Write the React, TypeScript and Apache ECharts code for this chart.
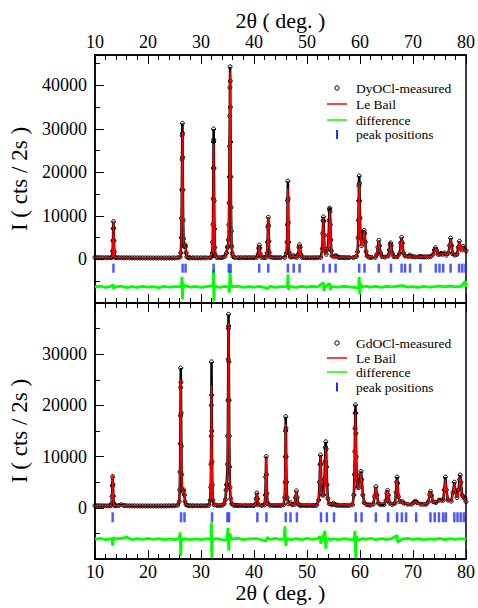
import React, { useEffect, useRef } from "react";
import * as echarts from "echarts";

const FONT = '"Liberation Serif", "Times New Roman", serif';

// ---------- X axis ----------
const X_MIN = 10;
const X_MAX = 80;
const X_TITLE = "2θ ( deg. )";
const Y_TITLE = "I ( cts / 2s )";

// ---------- DyOCl (top panel) ----------
const dyMeasured: [number, number][] = [
  [10.0,500],[10.5,450],[11.0,420],[11.5,400],[12.0,400],[12.5,390],[13.0,420],[13.25,550],[13.35,1900],[13.41,4300],[13.46,7100],[13.5,8700],[13.54,7200],[13.59,4300],[13.65,1800],[13.75,550],
  [14.0,420],[14.5,410],[15,400],[15.5,390],[16,380],[16.5,375],[17,370],[17.5,365],[18,360],[18.5,360],[19,360],[19.5,355],[20,350],[20.5,350],[21,350],[21.5,345],[22,340],[22.5,340],[23,340],[23.5,345],[24,350],[24.5,355],[25,360],[25.6,400],[26.05,550],
  [26.2,1500],[26.3,5000],[26.35,9500],[26.4,16000],[26.44,23000],[26.47,28500],[26.5,31300],[26.53,29000],[26.56,23500],[26.6,16000],[26.65,9000],[26.71,4800],
  [26.8,3100],[26.9,3000],[27.0,3400],[27.1,3000],[27.2,1500],[27.35,600],[27.7,400],[28,380],[28.5,375],[29,370],[29.5,370],[30,370],[30.5,375],[31,380],[31.7,420],[32.05,600],
  [32.15,1500],[32.22,4000],[32.27,8000],[32.31,14000],[32.35,21000],[32.38,27000],[32.4,30000],[32.43,27500],[32.46,21000],[32.5,13500],[32.55,7000],[32.62,2800],[32.75,900],[33.0,450],
  [33.5,420],[34.0,450],[34.5,700],[34.85,1500],[35.0,2800],[35.1,3000],[35.2,4500],
  [35.27,8000],[35.32,13000],[35.36,19000],[35.4,26000],[35.44,33000],[35.47,39500],[35.5,44300],[35.53,41000],[35.56,35000],[35.6,27000],[35.64,19000],[35.68,12000],[35.73,6500],[35.8,3000],[35.9,1400],[36.05,700],[36.4,450],
  [37,420],[37.5,415],[38,410],[38.5,410],[39,410],[39.5,415],[40,420],[40.55,500],[40.8,1300],[40.9,2600],[41.0,3300],[41.1,2600],[41.2,1200],[41.4,500],
  [41.9,450],[42.3,500],[42.5,1500],[42.57,4000],[42.63,7500],[42.7,9700],[42.77,7800],[42.83,4200],[42.9,1600],[43.05,600],
  [43.5,450],[44,430],[44.5,430],[45,430],[45.8,500],[46.15,1500],[46.25,4000],[46.3,8000],[46.35,13500],[46.4,18000],[46.45,14000],[46.5,8500],[46.55,4000],[46.65,1500],[46.85,600],
  [47.2,600],[47.45,900],[47.7,600],[48.1,500],[48.35,1200],[48.5,2800],[48.6,3400],[48.7,2800],[48.85,1200],[49.05,500],
  [49.5,420],[50,400],[50.5,400],[51,400],[51.5,410],[52,420],[52.6,500],[52.9,2500],[52.98,6000],[53.05,9000],[53.1,9800],[53.15,8800],[53.22,5500],[53.35,2000],
  [53.65,1200],[53.95,2500],[54.1,5500],[54.17,9000],[54.25,11500],[54.3,11800],[54.35,11000],[54.42,8000],[54.5,4500],[54.6,2000],[54.75,800],
  [55.2,600],[55.45,900],[55.75,600],[56.1,480],[56.5,450],[57,430],[57.5,430],[58,430],[58.8,450],[59.35,700],[59.55,1800],
  [59.65,5000],[59.71,9000],[59.76,13500],[59.8,17000],[59.85,19200],[59.9,17500],[59.95,13500],[60.01,9500],[60.1,6000],
  [60.3,3200],[60.55,4500],[60.67,6200],[60.8,6700],[60.9,6000],[61.0,4000],[61.15,1800],[61.35,800],[61.75,500],
  [62.2,450],[62.9,500],[63.2,1200],[63.38,2800],[63.55,4400],[63.7,3200],[63.85,1500],[64.15,700],
  [64.7,550],[65.3,800],[65.55,2200],[65.7,3400],[65.8,3800],[65.9,3200],[66.1,1400],[66.4,650],
  [67.0,600],[67.5,1400],[67.7,3800],[67.85,5100],[68.0,3800],[68.2,1500],[68.5,800],
  [69.1,700],[69.4,1000],[69.7,700],[70.1,620],[70.5,600],[71.1,600],[71.4,700],[71.7,600],
  [72.1,600],[72.5,600],[72.9,620],[73.3,650],[73.8,1200],[74.05,2200],[74.25,2700],[74.45,2100],[74.75,1200],[75.0,1200],[75.3,1400],[75.6,1200],[75.9,1500],[76.3,1000],
  [76.7,1500],[76.9,3200],[77.1,4900],[77.3,3200],[77.5,1300],[77.9,1000],[78.3,1200],[78.55,2800],[78.75,4200],[78.95,2800],[79.2,2200],[79.45,3000],[79.7,2400],[80,2000],
];

const dyLeBail: [number, number][] = [
  [10,450],[13.05,400],[13.3,800],[13.4,4000],[13.5,8900],[13.6,4000],[13.7,800],[13.95,400],
  [25.9,400],[26.25,2000],[26.37,12000],[26.5,29300],[26.61,12000],[26.73,4000],[26.85,3000],[27.0,3300],[27.15,2200],[27.35,600],[27.8,380],
  [31.8,400],[32.2,2000],[32.3,11000],[32.4,26500],[32.5,11000],[32.62,2500],[32.9,500],
  [34.5,600],[34.9,1800],[35.05,3000],[35.2,4000],[35.35,18000],[35.5,43200],[35.63,20000],[35.77,4000],[35.95,1000],[36.45,450],
  [40.6,450],[40.85,1500],[41.0,3200],[41.15,1500],[41.4,450],
  [42.35,450],[42.57,3500],[42.7,9600],[42.83,3500],[43.05,500],
  [45.95,450],[46.25,4000],[46.4,16300],[46.55,4000],[46.85,600],[47.45,850],[47.75,500],[48.35,1000],[48.6,3300],[48.85,1000],[49.25,450],
  [52.65,450],[52.93,2500],[53.1,9600],[53.25,4000],[53.45,1500],[53.75,1300],[54.05,3000],[54.3,11300],[54.5,3500],[54.75,700],
  [55.2,500],[55.45,800],[55.75,500],
  [59.25,500],[59.6,2500],[59.85,17800],[60.05,6000],[60.3,3000],[60.6,4500],[60.8,6600],[61.0,3500],[61.35,700],
  [62.9,500],[63.3,2000],[63.55,4300],[63.8,1500],[64.25,600],
  [65.3,600],[65.6,2000],[65.8,3700],[66.0,1500],[66.4,600],
  [67.45,800],[67.7,3000],[67.85,4900],[68.0,3000],[68.35,900],
  [69.1,650],[69.4,950],[69.7,650],[71.1,550],[71.4,650],[71.7,550],
  [73.6,700],[74.05,1800],[74.25,2600],[74.45,1800],[74.85,1000],[75.3,1300],[75.9,1400],[76.4,1000],
  [76.8,2000],[77.1,4700],[77.35,2000],[77.9,900],[78.4,1200],[78.75,4000],[79.1,2000],[79.45,2800],[79.75,2000],[80,1800],
];

const dyDifference: [number, number][] = [
  [10,-6300],[11,-6150],[12,-6400],[13,-6200],[13.45,-5800],[13.55,-6800],[13.7,-6300],[15,-6150],[16,-6450],[17,-6250],[18,-6400],[19,-6200],[20,-6350],[21,-6250],[22,-6450],[23,-6200],[24,-6350],[25,-6250],
  [26.3,-6200],[26.42,-4000],[26.52,-9200],[26.6,-5300],[26.75,-6500],[27.0,-6000],[28,-6350],[29,-6200],[30,-6400],[31,-6250],[32.3,-6000],[32.38,-2200],[32.43,-9600],[32.52,-6800],[32.7,-6200],
  [33.5,-6400],[34.5,-6200],[35.2,-6300],[35.35,-7600],[35.5,-2600],[35.62,-5400],[35.9,-6300],[37,-6150],[38,-6400],[39,-6250],[40,-6350],[41,-6200],[42.7,-6650],[43,-6100],[44,-6400],[45,-6250],
  [46.3,-6200],[46.42,-3400],[46.52,-7000],[46.7,-6200],[48,-6400],[49,-6200],[50,-6350],[51,-6150],[52,-6350],[53.1,-5300],[53.2,-7200],[53.4,-6300],[54.3,-5500],[54.4,-7000],[54.6,-6250],
  [56,-6350],[57,-6150],[58,-6300],[59.75,-6500],[59.85,-4000],[59.95,-8000],[60.1,-5500],[60.4,-6300],[61,-6150],[62,-6350],[63,-6200],[64,-6400],[65,-6200],[66,-6300],[67,-6150],
  [68,-6000],[69,-6350],[70,-6250],[71,-6400],[72,-6200],[73,-6350],[74,-6250],[75,-6100],[76,-6300],[77,-6100],[78,-6300],[79,-6200],[79.9,-5000],[80,-6300],
];

const dyPeakPositions: number[] = [
  13.5, 26.55, 27.1, 32.4, 35.25, 35.6, 41.0, 42.7, 46.4, 47.5, 48.6, 53.1, 54.3, 55.4,
  59.85, 60.85, 63.55, 65.85, 67.85, 68.5, 69.45, 71.4, 74.3, 75.0, 75.7, 77.1, 78.7, 79.3, 79.9,
];

// ---------- GdOCl (bottom panel) ----------
const gdMeasured: [number, number][] = [
  [10,450],[10.5,420],[11,400],[11.5,390],[12,380],[12.5,380],[13.0,400],
  [13.15,800],[13.22,2200],[13.28,4300],[13.35,6100],[13.42,4500],[13.48,2300],[13.55,900],[13.7,450],
  [14,400],[14.5,450],[15,600],[15.5,450],[16,400],[16.5,390],[17,380],[17.5,375],[18,370],[18.5,365],[19,360],[19.5,360],[20,360],[20.5,360],[21,360],[21.5,360],[22,360],[22.5,365],[23,370],[23.5,375],[24,380],[24.5,390],[25,400],[25.6,500],[25.9,1200],
  [26.0,3500],[26.05,7000],[26.1,12500],[26.14,18000],[26.17,23500],[26.2,27300],[26.23,24500],[26.27,18500],[26.31,12000],[26.36,6500],[26.45,3500],
  [26.6,3200],[26.75,3500],[26.88,2500],[27.0,1200],[27.2,600],[27.6,420],
  [28,400],[28.5,395],[29,390],[29.5,390],[30,390],[30.5,395],[31,400],[31.5,500],[31.75,1500],
  [31.85,4000],[31.9,8500],[31.94,14000],[31.97,20000],[32.0,28500],[32.03,22000],[32.06,15000],[32.1,9000],[32.15,4500],[32.25,1500],[32.5,600],
  [33,450],[33.5,450],[34,500],[34.4,800],[34.6,1600],[34.75,3500],[34.85,4500],[34.95,4500],
  [35.02,8500],[35.07,14000],[35.11,21000],[35.15,29000],[35.18,35000],[35.2,37800],[35.23,35500],[35.27,28500],[35.31,21000],[35.35,14000],[35.4,8000],[35.47,4000],[35.6,1800],[35.8,800],[36.2,500],
  [36.6,470],[37,450],[37.5,440],[38,430],[38.5,430],[39,430],[39.5,440],[40,450],[40.3,700],[40.42,1800],[40.55,2900],[40.68,1800],[40.85,600],
  [41.5,450],[42.0,600],[42.15,2500],[42.22,6000],[42.3,10000],[42.38,6500],[42.45,2800],[42.6,900],[43.0,500],
  [43.5,460],[44,450],[44.5,450],[45,450],[45.6,600],[45.8,2000],
  [45.88,5000],[45.93,10000],[45.97,15000],[46.0,17800],[46.04,15500],[46.09,10000],[46.15,5000],[46.25,2000],[46.5,800],
  [46.9,1000],[47.2,600],[47.7,700],[47.85,2000],[48.0,3300],[48.15,2000],[48.35,700],
  [48.7,500],[49,450],[49.5,450],[50,450],[50.5,450],[51,450],[51.4,470],[51.8,500],[52.2,1500],[52.38,5000],[52.48,8500],[52.55,10300],[52.62,8500],[52.72,4500],[52.85,2500],
  [53.15,2500],[53.3,5500],[53.4,9000],[53.48,11800],[53.55,12900],[53.62,11500],[53.7,8000],[53.8,4500],[53.95,1800],[54.2,800],
  [54.7,600],[55.0,900],[55.3,600],[55.6,520],[56,480],[56.5,470],[57,460],[57.5,465],[58,470],[58.6,600],[58.85,2500],
  [58.95,6500],[59.02,11000],[59.07,15500],[59.11,18500],[59.15,20100],[59.19,18500],[59.24,14500],[59.3,10000],[59.38,6500],
  [59.5,4000],[59.8,4000],[60.0,5800],[60.2,7100],[60.35,5500],[60.55,2500],[60.8,1000],[61.3,600],
  [61.7,560],[62,550],[62.5,700],[62.75,2200],[63.0,4100],[63.2,2500],[63.45,900],[63.9,600],
  [64.5,600],[64.9,1400],[65.05,2800],[65.2,3400],[65.35,2500],[65.6,900],[66.1,650],
  [66.6,900],[66.8,3000],[66.92,5000],[67.0,6000],[67.1,4800],[67.25,2200],[67.5,1200],[68.0,1200],[68.3,900],
  [69,700],[69.7,700],[70.2,1100],[70.5,1300],[70.8,1000],[71.5,700],
  [72,690],[72.5,700],[72.9,1200],[73.15,2600],[73.3,3200],[73.5,2400],[73.8,1200],[74.3,1000],[74.9,1500],[75.4,1500],[75.7,1500],
  [75.9,3500],[76.1,6000],[76.3,3500],[76.6,1500],[77.2,1300],[77.55,3000],[77.8,5000],[78.0,3300],[78.3,2000],[78.6,3500],[78.8,5500],[78.9,6400],[79.05,5000],[79.25,2500],[79.6,2000],[79.8,1800],[80,1200],
];

const gdLeBail: [number, number][] = [
  [10,420],[13.0,400],[13.15,700],[13.25,3000],[13.35,6600],[13.45,3000],[13.55,700],[13.8,400],
  [25.6,450],[25.95,2000],[26.07,10000],[26.2,25000],[26.32,10000],[26.45,3500],[26.6,3200],[26.75,3400],[26.9,2300],[27.1,800],[27.6,400],
  [31.5,450],[31.8,2000],[31.9,9000],[32.0,23800],[32.1,9000],[32.22,2000],[32.6,500],
  [34.3,700],[34.6,1800],[34.85,4400],[35.0,6500],[35.1,18000],[35.2,36100],[35.3,18000],[35.42,6000],[35.6,1800],[36.0,600],
  [40.2,500],[40.42,1700],[40.55,2800],[40.68,1700],[40.9,500],
  [42.0,550],[42.18,3000],[42.3,9700],[42.42,3000],[42.6,600],
  [45.6,550],[45.85,3500],[46.0,16400],[46.15,3500],[46.4,800],[46.9,950],[47.3,550],[47.7,650],[48.0,3200],[48.3,700],
  [52.0,500],[52.35,3500],[52.55,10000],[52.75,3000],[53.0,2200],[53.3,4000],[53.55,11900],[53.75,4000],[54.0,1500],[54.4,700],[55.0,850],[55.4,550],
  [58.6,550],[58.9,3000],[59.15,18700],[59.35,6500],[59.6,3800],[59.9,4200],[60.2,6800],[60.45,3500],[60.8,900],[61.4,550],
  [62.5,650],[62.8,2200],[63.0,4000],[63.2,2200],[63.5,800],
  [64.8,1000],[65.05,2600],[65.2,3300],[65.4,2000],[65.7,800],
  [66.6,900],[66.85,3500],[67.0,5500],[67.15,3500],[67.5,1100],[68.0,1150],[68.4,850],
  [69.8,700],[70.2,1050],[70.5,1250],[70.8,950],[71.5,650],
  [72.8,900],[73.1,2300],[73.3,3100],[73.5,2200],[73.9,1100],[74.9,1450],[75.4,1450],[75.75,1500],[75.95,3500],[76.1,5500],[76.3,3200],[76.7,1300],
  [77.3,1300],[77.6,3000],[77.8,4800],[78.0,3000],[78.4,2000],[78.7,4000],[78.9,5900],[79.1,4000],[79.35,2200],[79.6,1900],[80,1200],
];

const gdDifference: [number, number][] = [
  [10,-6100],[11,-5950],[12,-6200],[13.2,-6000],[13.35,-7400],[13.5,-5800],[13.8,-6100],[15,-5950],[16,-5750],[17,-6200],[18,-6000],[19,-6150],[20,-5950],[21,-6150],[22,-6000],[23,-6200],[24,-6050],[25,-6200],
  [25.9,-6000],[26.1,-4800],[26.2,-9400],[26.3,-5800],[26.6,-6300],[27,-6000],[28,-6200],[29,-6050],[30,-6200],[31,-6000],[31.9,-6100],[31.98,-2900],[32.03,-9800],[32.1,-6500],[32.3,-6100],
  [33,-6000],[34,-6200],[34.9,-6300],[35.1,-3900],[35.25,-8400],[35.4,-5000],[35.7,-6100],[37,-5950],[38,-6200],[39,-6050],[40.5,-6000],[42.3,-6500],[42.5,-5800],[43,-6150],[44,-5950],[45,-6150],
  [45.7,-6000],[45.85,-3600],[46.0,-7400],[46.2,-6000],[47,-6200],[48,-6000],[49,-6200],[50,-5950],[51,-6150],[52,-6000],[52.5,-5600],[52.6,-7000],[53.4,-4500],[53.55,-8000],[53.7,-6000],
  [54.5,-6200],[55,-6050],[56,-6200],[57,-6000],[58,-6150],[58.9,-6200],[59.05,-4500],[59.2,-9800],[59.35,-5600],[59.6,-6300],[60.5,-6000],[61,-6150],[62,-5950],[63,-6200],[64,-6000],[65,-6150],
  [66,-6000],[67,-5400],[67.1,-6700],[68,-6100],[69,-5950],[70,-6150],[71,-6000],[72,-6200],[73,-6050],[74,-6150],[75,-5950],[76,-6200],[77,-6000],[78,-6150],[79,-6000],[80,-6100],
];

const gdPeakPositions: number[] = [
  13.35, 26.25, 26.9, 32.1, 35.0, 35.3, 40.65, 42.35, 46.0, 46.9, 48.1, 52.65, 53.75, 55.1,
  59.2, 60.3, 63.0, 65.3, 67.0, 67.9, 68.7, 70.6, 73.3, 74.1, 74.9, 75.7, 76.2, 77.8, 78.4, 79.0, 79.6,
];

// ---------- Y ranges ----------
const DY_Y_MIN = -10000;
const DY_Y_MAX = 47000;
const GD_Y_MIN = -10000;
const GD_Y_MAX = 40000;
const DY_MARK_Y = -2000;
const GD_MARK_Y = -1850;

const DY_LEGEND = ["DyOCl-measured", "Le Bail", "difference", "peak positions"];
const GD_LEGEND = ["GdOCl-measured", "Le Bail", "difference", "peak positions"];

const RED = "#ff0000";
const GREEN = "#00ff00";
const BLUE = "#1f2fff";

function xAxisDef(gridIndex: number, position: string, labeled: boolean, nameGap: number) {
  return {
    type: "value",
    gridIndex,
    position,
    min: X_MIN,
    max: X_MAX,
    interval: 10,
    name: labeled ? X_TITLE : "",
    nameLocation: "middle",
    nameGap,
    nameTextStyle: { fontFamily: FONT, fontSize: 22, color: "#000" },
    axisLine: { show: true, onZero: false, lineStyle: { color: "#000", width: 1.5 } },
    axisTick: { show: true, inside: true, length: 9, lineStyle: { color: "#000", width: 1 } },
    minorTick: { show: true, splitNumber: 5, length: 5, lineStyle: { color: "#000", width: 1 } },
    axisLabel: { show: labeled, fontFamily: FONT, fontSize: 18, color: "#000", margin: 4 },
    splitLine: { show: false },
    minorSplitLine: { show: false },
  };
}

function legendGraphics(names: string[], rows: number[]) {
  const xs = 337;
  const tx = 356;
  const items: any[] = [
    { type: "circle", shape: { cx: xs, cy: rows[0], r: 2.2 }, style: { fill: "none", stroke: "#000", lineWidth: 1 } },
    { type: "line", shape: { x1: xs - 10, y1: rows[1], x2: xs + 10, y2: rows[1] }, style: { stroke: RED, lineWidth: 1.5 } },
    { type: "line", shape: { x1: xs - 10, y1: rows[2], x2: xs + 10, y2: rows[2] }, style: { stroke: GREEN, lineWidth: 1.5 } },
    { type: "rect", shape: { x: xs - 1, y: rows[3] - 4.5, width: 2, height: 9 }, style: { fill: BLUE } },
  ];
  names.forEach((n, i) => {
    items.push({
      type: "text",
      x: tx,
      y: rows[i],
      style: { text: n, fontFamily: FONT, fontSize: 13.5, fill: "#000", verticalAlign: "middle", align: "left" },
    });
  });
  return items;
}

function panelSeries(
  xi: number,
  yi: number,
  measured: [number, number][],
  leBail: [number, number][],
  diff: [number, number][],
  peaks: number[],
  markY: number,
  markH: number
) {
  return [
    {
      type: "line",
      xAxisIndex: xi,
      yAxisIndex: yi,
      data: measured,
      symbol: "circle",
      symbolSize: 4,
      showAllSymbol: true,
      itemStyle: { color: "rgba(0,0,0,0)", borderColor: "#000", borderWidth: 1 },
      lineStyle: { color: "#000", width: 2.5 },
      z: 2,
    },
    {
      type: "line",
      xAxisIndex: xi,
      yAxisIndex: yi,
      data: leBail,
      symbol: "none",
      lineStyle: { color: RED, width: 1.5 },
      z: 3,
    },
    {
      type: "line",
      xAxisIndex: xi,
      yAxisIndex: yi,
      data: diff,
      symbol: "none",
      lineStyle: { color: GREEN, width: 2.8 },
      z: 2,
    },
    {
      type: "scatter",
      xAxisIndex: xi,
      yAxisIndex: yi,
      data: peaks.map((p) => [p, markY]),
      symbol: "rect",
      symbolSize: [2.5, markH],
      itemStyle: { color: BLUE },
      z: 2,
    },
  ];
}

export default function App() {
  const ref = useRef<HTMLDivElement>(null);

  useEffect(() => {
    if (!ref.current) return;
    const chart = echarts.init(ref.current, null, { renderer: "svg" });
    const yLabel = {
      fontFamily: FONT,
      fontSize: 18,
      color: "#000",
      margin: 8,
    };
    const option: any = {
      animation: false,
      backgroundColor: "#fff",
      grid: [
        { left: 90, right: 12, top: 55, height: 248, show: true, borderColor: "#000", borderWidth: 1.5, backgroundColor: "transparent" },
        { left: 90, right: 12, top: 303, height: 256, show: true, borderColor: "#000", borderWidth: 1.5, backgroundColor: "transparent" },
      ],
      xAxis: [
        xAxisDef(0, "top", true, 24),
        xAxisDef(0, "bottom", false, 20),
        xAxisDef(1, "bottom", true, 22),
        xAxisDef(1, "top", false, 20),
      ],
      yAxis: [
        {
          type: "value",
          gridIndex: 0,
          position: "left",
          min: DY_Y_MIN,
          max: DY_Y_MAX,
          interval: 10000,
          name: Y_TITLE,
          nameLocation: "middle",
          nameGap: 58,
          nameRotate: 90,
          nameTextStyle: { fontFamily: FONT, fontSize: 23, color: "#000" },
          axisLine: { show: true, onZero: false, lineStyle: { color: "#000", width: 1.5 } },
          axisTick: { show: true, inside: true, length: 9, lineStyle: { color: "#000", width: 1 } },
          axisLabel: { ...yLabel, formatter: (v: number) => (v >= 0 && v <= 40000 ? String(v) : "") },
          splitLine: { show: false },
        },
        {
          type: "value",
          gridIndex: 0,
          position: "left",
          min: DY_Y_MIN,
          max: DY_Y_MAX,
          interval: 5000,
          axisLine: { show: false, onZero: false },
          axisTick: { show: true, inside: true, length: 5, lineStyle: { color: "#000", width: 1 } },
          axisLabel: { show: false },
          splitLine: { show: false },
        },
        {
          type: "value",
          gridIndex: 1,
          position: "left",
          min: GD_Y_MIN,
          max: GD_Y_MAX,
          interval: 10000,
          name: Y_TITLE,
          nameLocation: "middle",
          nameGap: 58,
          nameRotate: 90,
          nameTextStyle: { fontFamily: FONT, fontSize: 23, color: "#000" },
          axisLine: { show: true, onZero: false, lineStyle: { color: "#000", width: 1.5 } },
          axisTick: { show: true, inside: true, length: 9, lineStyle: { color: "#000", width: 1 } },
          minorTick: { show: true, splitNumber: 2, length: 5, lineStyle: { color: "#000", width: 1 } },
          axisLabel: { ...yLabel, formatter: (v: number) => (v >= 0 && v <= 30000 ? String(v) : "") },
          splitLine: { show: false },
          minorSplitLine: { show: false },
        },
      ],
      series: [
        ...panelSeries(0, 0, dyMeasured, dyLeBail, dyDifference, dyPeakPositions, DY_MARK_Y, 9),
        ...panelSeries(2, 2, gdMeasured, gdLeBail, gdDifference, gdPeakPositions, GD_MARK_Y, 10),
      ],
      graphic: [
        ...legendGraphics(DY_LEGEND, [88, 104, 120, 134.5]),
        ...legendGraphics(GD_LEGEND, [343, 358, 372, 387]),
      ],
    };
    chart.setOption(option);
    return () => chart.dispose();
  }, []);

  return (
    <div
      ref={ref}
      style={{ position: "fixed", left: 0, top: 0, width: 478, height: 608, background: "#fff" }}
    />
  );
}
